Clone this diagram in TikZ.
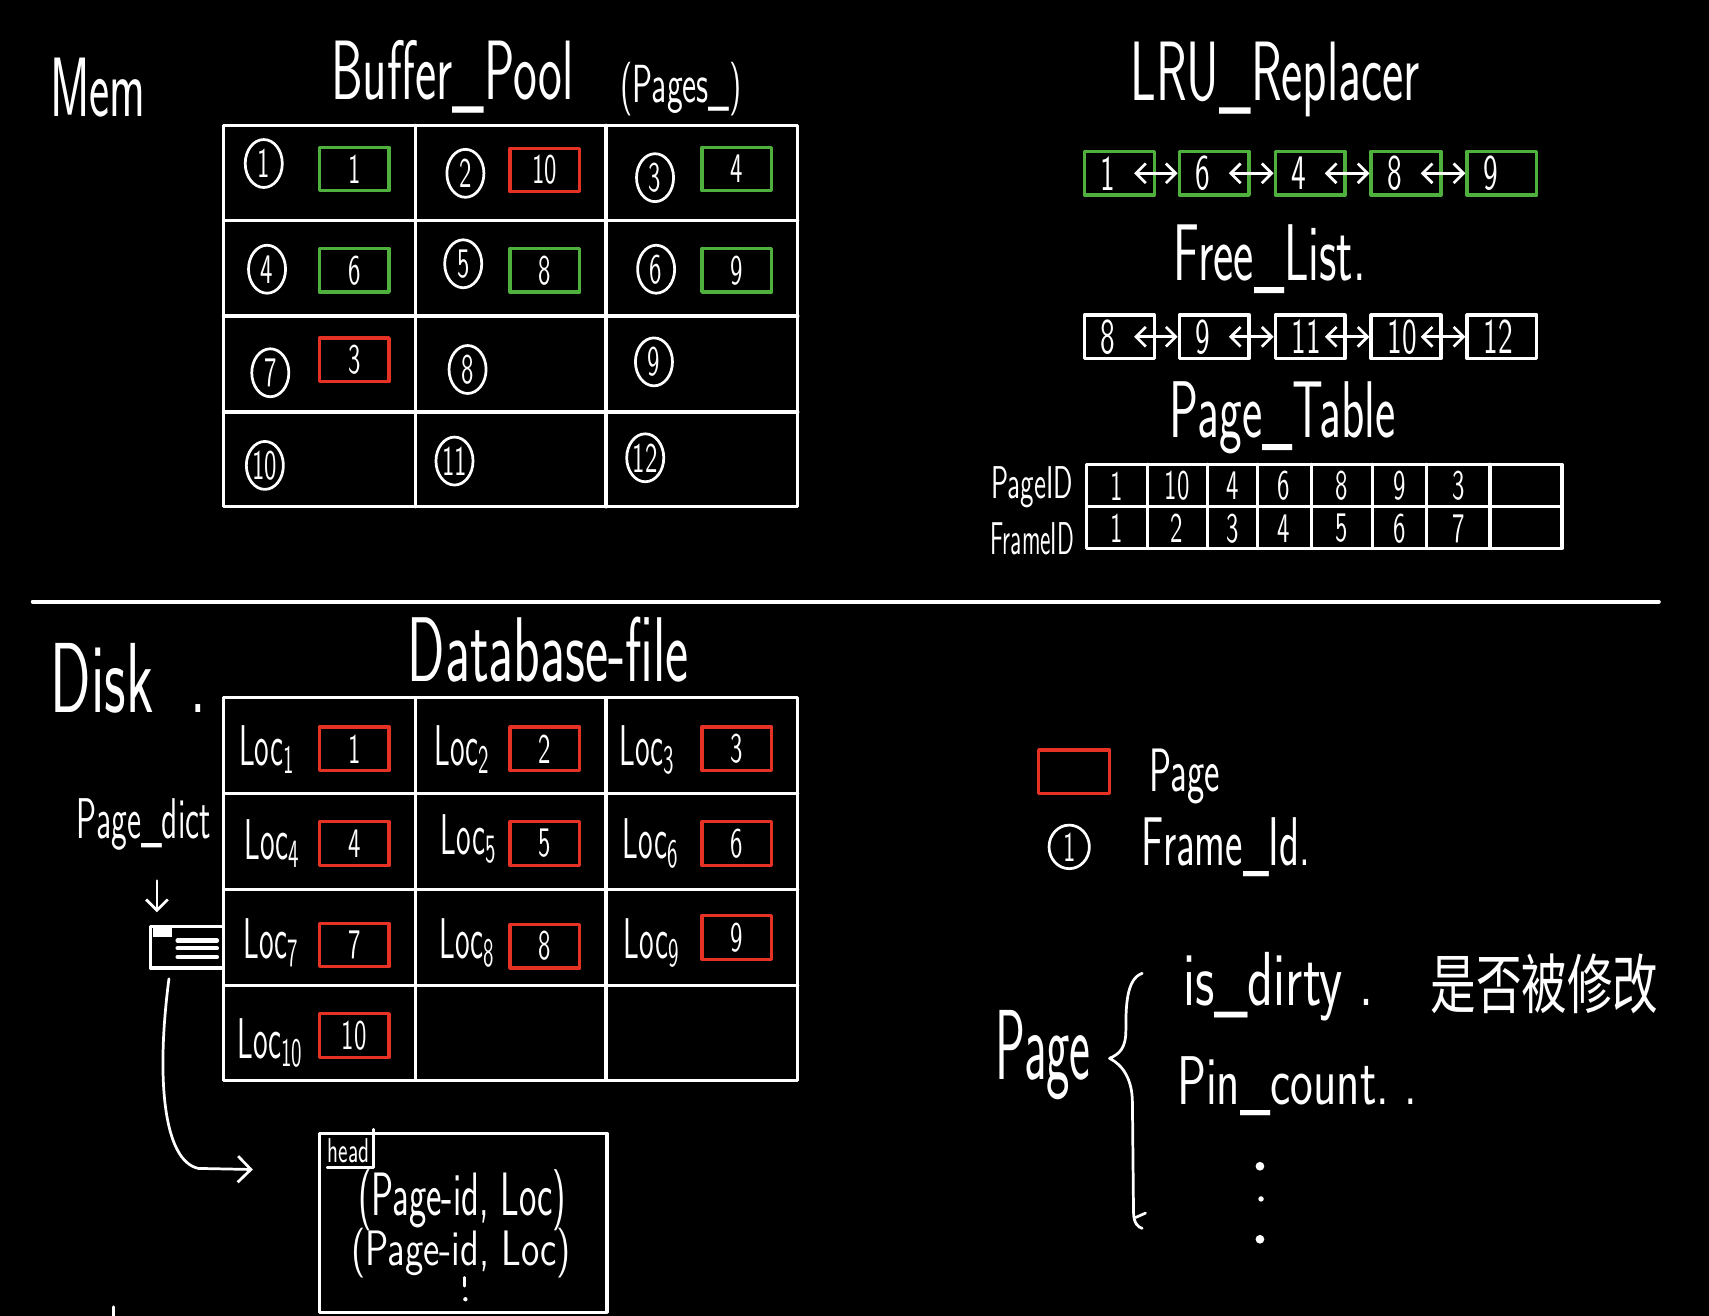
\documentclass[tikz,border=0pt]{standalone}
\usepackage{fontspec}
\usepackage{graphicx}
\newfontfamily\cjk{Noto Sans CJK SC}
\renewcommand{\familydefault}{\sfdefault}
\usetikzlibrary{arrows.meta}
\usetikzlibrary{shapes.geometric}
\definecolor{pgreen}{RGB}{80,176,62}
\definecolor{pred}{RGB}{230,50,36}
\newcommand{\hw}[2][0.6]{\scalebox{#1}[1]{#2}}
\newcommand{\fs}[1]{\fontsize{#1}{#1}\selectfont}

\tikzset{
  big/.style={font=\fs{22}, inner sep=0pt},
  mid/.style={font=\fs{17}, inner sep=0pt},
  small/.style={font=\fs{12}, inner sep=0pt},
  pagebox/.style={draw, line width=0.3mm, minimum width=6.4mm, minimum height=4mm, inner sep=0pt, font=\fs{11}},
  listbox/.style={draw, line width=0.3mm, minimum width=6.4mm, minimum height=4mm, inner xsep=1.5mm, inner ysep=0pt, text width=3.4mm, align=left, font=\fs{13}},
  frameid/.style={draw, ellipse, line width=0.25mm, minimum width=3.4mm, minimum height=4.4mm, inner sep=0pt, font=\fs{11}},
  link/.style={{Straight Barb[length=0.9mm,width=1.8mm]}-{Straight Barb[length=0.9mm,width=1.8mm]}, line width=0.25mm},
  grid lines/.style={line width=0.3mm},
}

\begin{document}
\begin{tikzpicture}[line cap=round,line join=round,x=0.1mm,y=-0.1mm,color=white]
\fill[black] (0,0) rectangle (1568,1207);
\useasboundingbox (0,0) rectangle (1568,1207);
% memory side
\node[big] (mem) at (90,80) {\hw[0.57]{Mem}};
\node[big] (bpool) at (415,70) {\hw{Buffer\_Pool}};
\node[small, font=\fs{14}] (bpages) at (625,82) {\hw{(Pages\_)}};
\draw[grid lines] (205,115) rectangle (732,465);
\draw[grid lines] (381,115) -- (381,465);
\draw[grid lines] (556,115) -- (556,465);
\draw[grid lines] (205,202) -- (732,202);
\draw[grid lines] (205,290) -- (732,290);
\draw[grid lines] (205,378) -- (732,378);
\foreach \n/\x/\y in {1/242/150, 2/427/159, 3/601/163, 4/245/247, 5/425/242, 6/602/247,
  7/248/342, 8/429/339, 9/600/332, 10/243/427, 11/417/423, 12/592/420}
  \node[frameid] (f\n) at (\x,\y) {\hw{\n}};
\foreach \n/\x/\y/\c/\p in {1/325/155/pgreen/1, 2/500/156/pred/10, 3/676/155/pgreen/4,
  4/325/248/pgreen/6, 5/500/248/pgreen/8, 6/676/248/pgreen/9, 7/325/330/pred/3}
  \node[pagebox, draw=\c] (p\n) at (\x,\y) {\hw{\p}};

% replacer, free list, page table
\node[big] (lru) at (1170,73) {\hw{LRU\_Replacer}};
\foreach \i/\x/\n in {1/1027/1, 2/1114/6, 3/1202/4, 4/1290/8, 5/1378/9}
  \node[listbox, draw=pgreen] (lru\i) at (\x,159) {\hw{\n}};
\foreach \i/\j in {1/2, 2/3, 3/4, 4/5}
  \draw[link] ([xshift=-2mm]lru\i.east) -- (lru\j.west);
\node[big, font=\fs{21}] (freelist) at (1165,238) {\hw{Free\_List.}};
\foreach \i/\x/\n in {1/1027/8, 2/1114/9, 3/1202/11, 4/1290/10, 5/1378/12}
  \node[listbox] (fl\i) at (\x,309) {\hw{\n}};
\foreach \i/\j in {1/2, 2/3, 3/4, 4/5}
  \draw[link] ([xshift=-2mm]fl\i.east) -- (fl\j.west);
\node[big, font=\fs{21}] (ptable) at (1177,383) {\hw{Page\_Table}};
\draw[grid lines] (997,426) rectangle (1433,503);
\draw[grid lines] (997,465) -- (1433,465);
\foreach \x in {1053,1108,1154,1203,1259,1309,1367}
  \draw[grid lines] (\x,426) -- (\x,503);
\foreach \x/\a/\b in {1025/1/1, 1080/10/2, 1131/4/3, 1178/6/4, 1231/8/5, 1284/9/6, 1338/3/7} {
  \node[small, font=\fs{11}] (pid\b) at (\x,446) {\hw{\a}};
  \node[small, font=\fs{11}] (fid\b) at (\x,485) {\hw{\b}};
}
\node[small] (pidlbl) at (947,447) {\hw{PageID}};
\node[small] (fidlbl) at (947,494) {\hw[0.52]{FrameID}};

\draw[line width=0.35mm] (30,552) -- (1522,552);

% disk side
\node[big, font=\fs{26}] (disk) at (118,622) {\hw{Disk\ \ .}};
\node[big, font=\fs{24}] (dbfile) at (503,596) {\hw{Database-file}};
\draw[grid lines] (205,640) rectangle (732,991);
\draw[grid lines] (381,640) -- (381,991);
\draw[grid lines] (556,640) -- (556,991);
\draw[grid lines] (205,728) -- (732,728);
\draw[grid lines] (205,816) -- (732,816);
\draw[grid lines] (205,904) -- (732,904);
\foreach \n/\x/\y/\lx/\ly in {1/325/687/245/688, 2/500/687/424/688, 3/676/687/594/688,
  4/325/774/250/774, 5/500/774/430/770, 6/676/774/597/774,
  7/325/867/249/865, 8/500/868/429/865, 9/676/860/598/865, 10/325/950/248/957} {
  \node[pagebox, draw=pred] (d\n) at (\x,\y) {\hw{\n}};
  \node[small, font=\fs{15}] (loc\n) at (\lx,\ly) {\hw[0.52]{Loc\textsubscript{\n}}};
}
\node[mid, font=\fs{15}] (pdict) at (132,756) {\hw[0.56]{Page\_dict}};
\coordinate (dtop) at (144,808);
\coordinate (dbot) at (144,837);
\draw[line width=0.25mm, -{Straight Barb[length=1mm,width=2mm]}] (dtop) -- (dbot);
\node[draw, line width=0.3mm, minimum width=6.7mm, minimum height=3.8mm, inner sep=0pt] (icon) at (171.5,869) {};
\fill (140,851) rectangle (158,860);
\draw[line width=0.4mm] (163,863) -- (199,863);
\draw[line width=0.4mm] (163,870) -- (199,870);
\draw[line width=0.4mm] (163,878) -- (199,878);
\coordinate (cstart) at (155,898);
\coordinate (ctip) at (232,1073);
\draw[line width=0.25mm, -{Straight Barb[length=1.2mm,width=2.4mm]}] (cstart) .. controls (143,990) and (150,1065) .. (182,1072) -- (ctip);
\node[draw, line width=0.3mm, minimum width=26.4mm, minimum height=16.4mm, inner sep=0pt] (dictbox) at (425,1122) {};
\node[small, font=\fs{9}] (headlbl) at (320,1056) {\hw{head}};
\draw[line width=0.25mm] ([yshift=-0.3mm]headlbl.south west) -- ([xshift=0.3mm,yshift=-0.3mm]headlbl.south east) -- ([xshift=0.3mm,yshift=0.8mm]headlbl.north east);
\node[small, font=\fs{16}] (entry1) at (424,1101) {\hw{(Page-id,\ Loc)}};
\node[small, font=\fs{13}] (entry2) at (423,1150) {\hw[0.75]{(Page-id,\ Loc)}};
\draw[line width=0.25mm] (426,1172) -- (426,1180);
\fill (427,1192) circle (2);
\draw[line width=0.25mm] (104,1199) -- (104,1207);

% legend and page fields
\node[pagebox, draw=pred, minimum width=6.5mm] (legpage) at (985.5,708) {};
\node[mid, font=\fs{16}] (legpagetxt) at (1087,712) {\hw{Page}};
\node[frameid, minimum width=3.7mm, minimum height=4mm] (legframe) at (981,777) {\hw{1}};
\node[mid, font=\fs{18}] (legframetxt) at (1125,777) {\hw{Frame\_Id.}};
\node[big, font=\fs{26}] (pagebig) at (957,968) {\hw[0.5]{Page}};
\draw[line width=0.25mm] (1048,893) .. controls (1033,898) and (1033,925) .. (1033,945)
  .. controls (1033,962) and (1027,967) .. (1018,971)
  .. controls (1030,977) and (1039,990) .. (1039,1012) -- (1040,1112)
  .. controls (1040,1122) and (1044,1126) .. (1048,1127);
\draw[line width=0.25mm] (1042,1117) -- (1051,1113);
\node[mid, font=\fs{20}] (dirty) at (1173,905) {\hw[0.7]{is\_dirty\ .}};
\node[mid, font=\fs{17}] (dirtycn) at (1417,903) {\hw[0.7]{\cjk 是否被修改}};
\node[mid, font=\fs{18}] (pincount) at (1190,997) {\hw[0.7]{Pin\_count.\ .}};
\fill (1156,1070) circle (4);
\fill (1157,1100) circle (2.5);
\fill (1156,1137) circle (4);
\end{tikzpicture}
\end{document}
